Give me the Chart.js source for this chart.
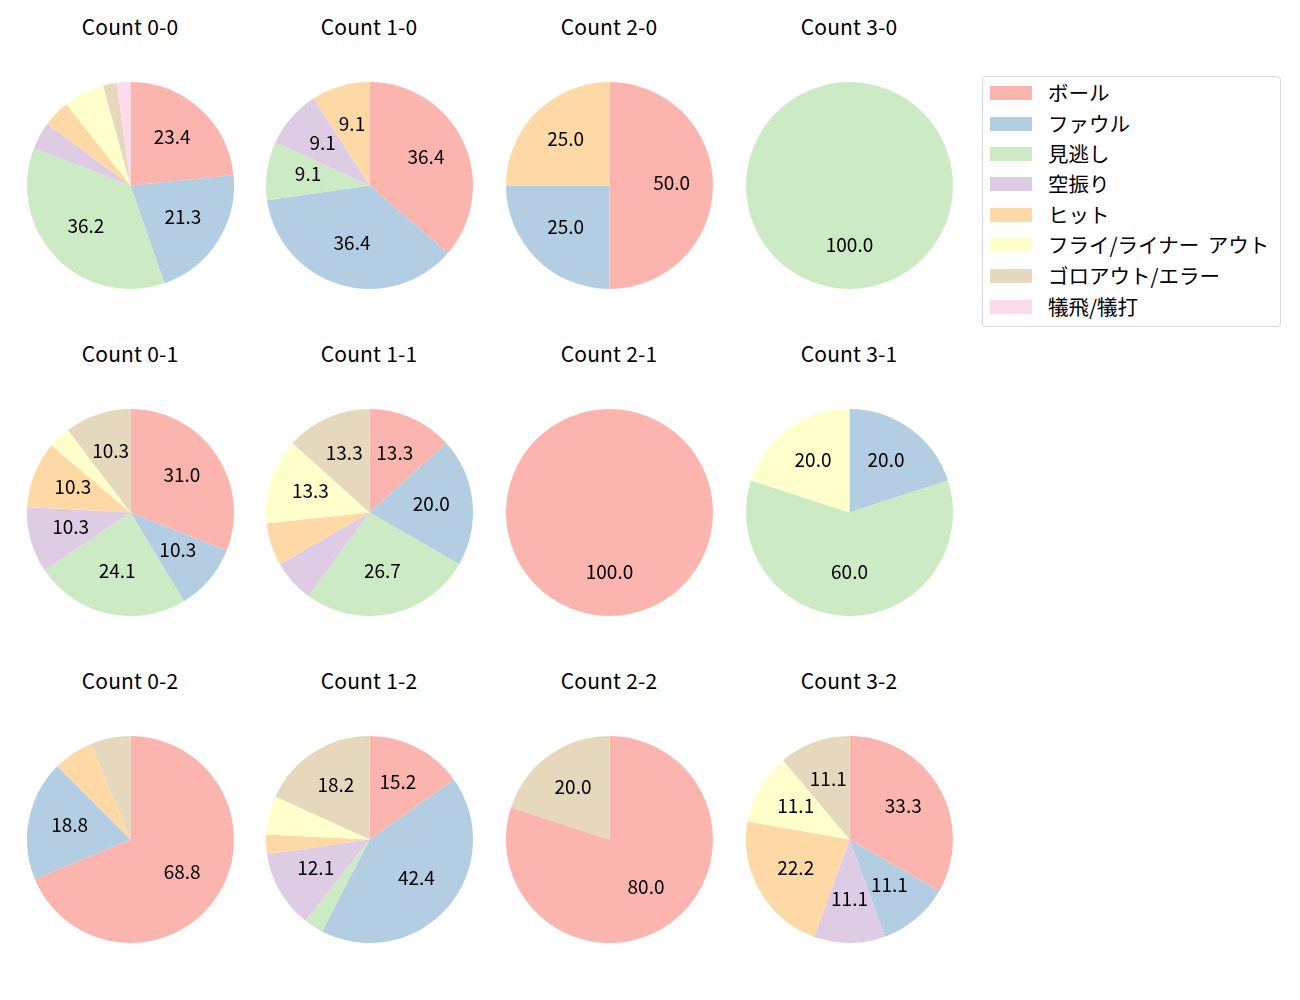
<!DOCTYPE html>
<html>
<head>
<meta charset="utf-8">
<script src="https://cdn.jsdelivr.net/npm/chart.js@4/dist/chart.umd.min.js"></script>
<style>
  html, body { margin: 0; padding: 0; background: #fff; }
  body { width: 1300px; height: 1000px; position: relative; overflow: hidden;
         font-family: "Noto Sans CJK JP", "Noto Sans", sans-serif; }
  .title { position: absolute; width: 240px; text-align: center; font-size: 21px;
           line-height: 26px; color: #000; letter-spacing: 0.2px; }
  .pie { position: absolute; width: 207px; height: 207px; }
  #legend { position: absolute; left: 982px; top: 76px; width: 297px; height: 249px;
            border: 1px solid #d6d6d6; border-radius: 4px; box-sizing: content-box; }
  .lrow { position: absolute; left: 0; height: 24px; }
  .lsw { position: absolute; left: 7px; top: 5px; width: 42px; height: 14px; }
  .ltx { position: absolute; left: 65px; top: -1px; font-size: 20.5px; line-height: 24px;
         white-space: nowrap; color: #000; word-spacing: 4px; }
</style>
</head>
<body>
<div id="legend"></div>
<script>
// ---- data ----
const categories = ["ボール", "ファウル", "見逃し", "空振り", "ヒット", "フライ/ライナー アウト", "ゴロアウト/エラー", "犠飛/犠打"];
const colors = ["#fbb4ae", "#b3cde3", "#ccebc5", "#decbe4", "#fed9a6", "#ffffcc", "#e5d8bd", "#fddaec"];
const titles = ["Count 0-0", "Count 1-0", "Count 2-0", "Count 3-0",
                "Count 0-1", "Count 1-1", "Count 2-1", "Count 3-1",
                "Count 0-2", "Count 1-2", "Count 2-2", "Count 3-2"];
const count00 = [11, 10, 17, 2, 2, 3, 1, 1];
const count10 = [4, 4, 1, 1, 1, 0, 0, 0];
const count20 = [2, 1, 0, 0, 1, 0, 0, 0];
const count30 = [0, 0, 1, 0, 0, 0, 0, 0];
const count01 = [9, 3, 7, 3, 3, 1, 3, 0];
const count11 = [2, 3, 4, 1, 1, 2, 2, 0];
const count21 = [1, 0, 0, 0, 0, 0, 0, 0];
const count31 = [0, 1, 3, 0, 0, 1, 0, 0];
const count02 = [11, 3, 0, 0, 1, 0, 1, 0];
const count12 = [5, 14, 1, 4, 1, 2, 6, 0];
const count22 = [4, 0, 0, 0, 0, 0, 1, 0];
const count32 = [3, 1, 0, 1, 2, 1, 1, 0];
const panelData = [count00, count10, count20, count30,
                   count01, count11, count21, count31,
                   count02, count12, count22, count32];
const labelThreshold = 8; // percent below which no label is drawn

// ---- layout ----
const colCenters = [130, 369, 609, 849];
const rowCenters = [185.5, 512, 839];
const titleCenters = [28, 355, 682];

// legend
const legend = document.getElementById('legend');
const rowY = [16, 46.5, 77, 107, 138, 168, 199, 230];
categories.forEach((c, i) => {
  const r = document.createElement('div');
  r.className = 'lrow';
  r.style.top = (rowY[i] - 12) + 'px';
  r.innerHTML = '<div class="lsw" style="background:' + colors[i] + '"></div><div class="ltx">' + c + '</div>';
  legend.appendChild(r);
});

const pctLabels = {
  id: 'pctLabels',
  afterDatasetsDraw(chart) {
    const ctx = chart.ctx;
    const meta = chart.getDatasetMeta(0);
    const vals = chart.data.datasets[0].data;
    const total = vals.reduce((a, b) => a + b, 0);
    ctx.save();
    ctx.fillStyle = '#000';
    ctx.font = '19px "Noto Sans CJK JP", "Noto Sans", sans-serif';
    ctx.textAlign = 'center';
    ctx.textBaseline = 'middle';
    meta.data.forEach((arc, i) => {
      const pct = vals[i] / total * 100;
      if (pct < labelThreshold) return;
      const p = arc.getProps(['x', 'y', 'startAngle', 'endAngle', 'outerRadius'], true);
      const mid = (p.startAngle + p.endAngle) / 2;
      const x = p.x + Math.cos(mid) * p.outerRadius * 0.6;
      const y = p.y + Math.sin(mid) * p.outerRadius * 0.6 - 2.5;
      ctx.fillText(pct.toFixed(1), x, y);
    });
    ctx.restore();
  }
};

panelData.forEach((vals, k) => {
  const col = k % 4, row = Math.floor(k / 4);
  const cx = colCenters[col], cy = rowCenters[row];
  const t = document.createElement('div');
  t.className = 'title';
  t.style.left = (cx - 120) + 'px';
  t.style.top = (titleCenters[row] - 15) + 'px';
  t.textContent = titles[k];
  document.body.appendChild(t);

  const wrap = document.createElement('div');
  wrap.className = 'pie';
  wrap.style.left = (cx - 103.5) + 'px';
  wrap.style.top = (cy - 103.5) + 'px';
  const cv = document.createElement('canvas');
  wrap.appendChild(cv);
  document.body.appendChild(wrap);

  new Chart(cv, {
    type: 'pie',
    data: {
      labels: categories,
      datasets: [{ data: vals, backgroundColor: colors, borderWidth: 0, hoverOffset: 0 }]
    },
    options: {
      responsive: true,
      maintainAspectRatio: false,
      animation: false,
      events: [],
      layout: { padding: 0 },
      plugins: { legend: { display: false }, tooltip: { enabled: false }, title: { display: false } }
    },
    plugins: [pctLabels]
  });
});
</script>
</body>
</html>
